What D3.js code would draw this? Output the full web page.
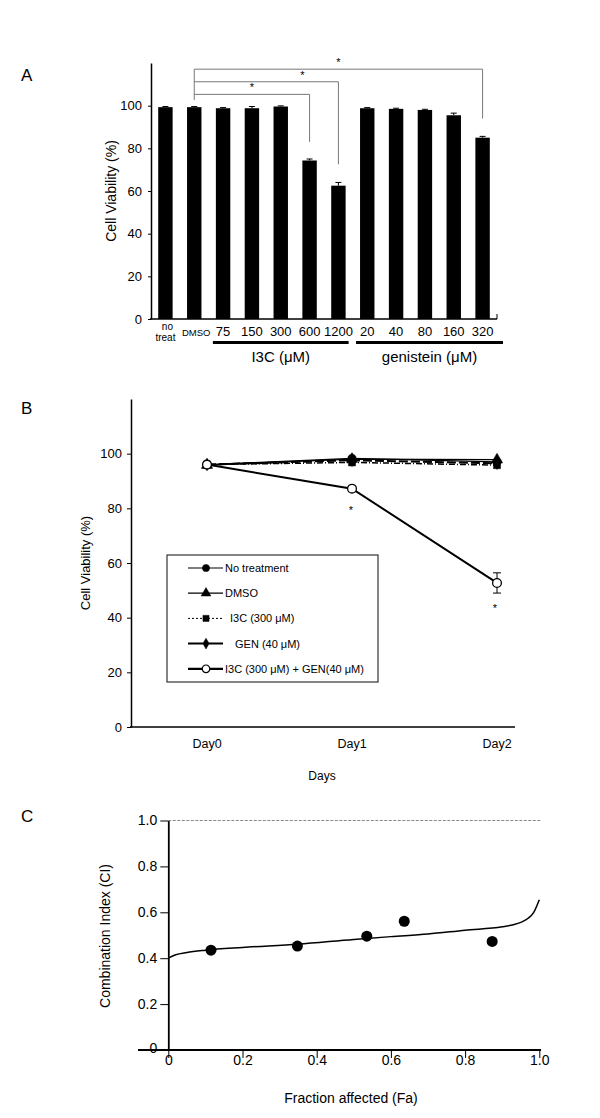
<!DOCTYPE html>
<html><head><meta charset="utf-8">
<script src="https://cdn.jsdelivr.net/npm/d3@7"></script>
<style>
body{margin:0;background:#fff;}
svg{display:block;font-family:"Liberation Sans",Arial,sans-serif;}
</style></head>
<body><svg id="c" width="600" height="1118"></svg>
<script>
// ---------- Panel A data ----------
const barCategories = ["no treat","DMSO","75","150","300","600","1200","20","40","80","160","320"];
const barValues = [99.3,99.3,98.8,98.8,99.6,74.3,62.5,98.8,98.5,98.0,95.5,85.0];
const barErrors = [0.3,0.3,0.3,0.8,0.3,0.7,1.5,0.3,0.3,0.3,1.0,0.6];
const yTicksA = [0,20,40,60,80,100];
const groupI3C = ["75","150","300","600","1200"];
const groupGEN = ["20","40","80","160","320"];
// significance brackets: from, to, bracket level (%), drop end (%)
const bracketFrom = ["DMSO","DMSO","DMSO"];
const bracketTo = ["600","1200","320"];
const bracketLevel = [105.3,111.2,117.1];
const bracketDrop = [83,72.5,94];

// ---------- Panel B data ----------
const days = ["Day0","Day1","Day2"];
const noTreatment = [96.0,98.3,97.0];
const dmso = [95.8,98.0,97.8];
const i3c300 = [96.0,96.8,95.8];
const gen40 = [96.0,97.6,96.5];
const combo = [96.0,87.2,52.7];
const comboErr = [0,0,3.7];
const yTicksB = [0,20,40,60,80,100];
const seriesNames = ["No treatment","DMSO","I3C (300 \u03bcM)","GEN (40 \u03bcM)","I3C (300 \u03bcM) + GEN(40 \u03bcM)"];

// ---------- Panel C data ----------
const faPoints = [0.115,0.348,0.535,0.636,0.873];
const ciPoints = [0.435,0.453,0.496,0.561,0.473];
const curveFa = [0,0.02,0.05,0.1,0.2,0.35,0.5,0.6,0.7,0.8,0.9,0.93,0.95,0.97,0.985,1.0];
const curveCi = [0.400,0.415,0.425,0.435,0.447,0.461,0.482,0.494,0.505,0.522,0.537,0.546,0.556,0.574,0.600,0.655];
const ticksC = [0,0.2,0.4,0.6,0.8,1.0];

const svg = d3.select("#c");
const F = "Liberation Sans, Arial, sans-serif";

function panelLabel(t,x,y){
  svg.append("text").attr("x",x).attr("y",y).attr("font-size",17).text(t);
}

// ================= PANEL A =================
(function(){
  panelLabel("A",21,81);
  const x = d3.scaleBand().domain(barCategories).range([151,497]).paddingInner(0.5).paddingOuter(0.25);
  const y = d3.scaleLinear().domain([0,120]).range([319,63]);
  const g = svg.append("g");
  g.selectAll("rect.bar").data(barValues).join("rect")
    .attr("x",(d,i)=>x(barCategories[i])).attr("width",x.bandwidth())
    .attr("y",d=>y(d)).attr("height",d=>y(0)-y(d)).attr("fill","#000");
  const eb = g.selectAll("g.eb").data(barValues).join("g");
  eb.append("line").attr("x1",(d,i)=>x(barCategories[i])+x.bandwidth()/2).attr("x2",(d,i)=>x(barCategories[i])+x.bandwidth()/2)
    .attr("y1",(d,i)=>y(d+barErrors[i])).attr("y2",(d,i)=>y(d)).attr("stroke","#000").attr("stroke-width",1);
  eb.append("line").attr("x1",(d,i)=>x(barCategories[i])+x.bandwidth()/2-3).attr("x2",(d,i)=>x(barCategories[i])+x.bandwidth()/2+3)
    .attr("y1",(d,i)=>y(d+barErrors[i])).attr("y2",(d,i)=>y(d+barErrors[i])).attr("stroke","#000").attr("stroke-width",1);
  const ya = g.append("g").attr("transform","translate(151,0)")
    .call(d3.axisLeft(y).tickValues(yTicksA).tickSize(3).tickSizeOuter(0).tickPadding(6));
  ya.select(".domain").attr("stroke-width",1.5);
  ya.selectAll("text").attr("font-size",13).attr("font-family",F).attr("fill","#000");
  g.append("line").attr("x1",150).attr("x2",497).attr("y1",319).attr("y2",319).attr("stroke","#000").attr("stroke-width",1.5);
  g.append("line").attr("x1",497).attr("x2",497).attr("y1",319).attr("y2",314).attr("stroke","#000").attr("stroke-width",1);
  const cx = c => x(c)+x.bandwidth()/2;
  barCategories.forEach((c,i)=>{
    if(c==="no treat"){
      g.append("text").attr("x",cx(c)+2).attr("y",330).attr("text-anchor","middle").attr("font-size",10).text("no");
      g.append("text").attr("x",cx(c)).attr("y",341).attr("text-anchor","middle").attr("font-size",10).text("treat");
    } else if(c==="DMSO"){
      g.append("text").attr("x",cx(c)+2).attr("y",336).attr("text-anchor","middle").attr("font-size",9.5).text("DMSO");
    } else {
      g.append("text").attr("x",cx(c)).attr("y",336).attr("text-anchor","middle").attr("font-size",13).text(c);
    }
  });
  const gx0 = x(groupI3C[0])-3, gx1 = x(groupI3C[groupI3C.length-1])+x.bandwidth()+3;
  g.append("line").attr("x1",gx0).attr("x2",gx1).attr("y1",342.5).attr("y2",342.5).attr("stroke","#000").attr("stroke-width",3);
  g.append("text").attr("x",(gx0+gx1)/2).attr("y",362).attr("text-anchor","middle").attr("font-size",15).text("I3C (\u03bcM)");
  const hx0 = x(groupGEN[0])-4, hx1 = 503;
  g.append("line").attr("x1",hx0).attr("x2",hx1).attr("y1",342.5).attr("y2",342.5).attr("stroke","#000").attr("stroke-width",3);
  g.append("text").attr("x",(hx0+hx1)/2).attr("y",362).attr("text-anchor","middle").attr("font-size",15).text("genistein (\u03bcM)");
  g.append("text").attr("transform","translate(116,191) rotate(-90)").attr("text-anchor","middle").attr("font-size",14).text("Cell Viability (%)");
  const bg = g.append("g").attr("stroke","#777").attr("stroke-width",1).attr("fill","none");
  bg.append("line").attr("x1",cx("DMSO")).attr("x2",cx("DMSO")).attr("y1",y(102.6)).attr("y2",y(d3.max(bracketLevel)));
  bracketTo.forEach((t,i)=>{
    bg.append("path").attr("d",`M${cx(bracketFrom[i])},${y(bracketLevel[i])}H${cx(t)}V${y(bracketDrop[i])}`);
  });
  const starX = [0.5,0.75,0.5];
  bracketTo.forEach((t,i)=>{
    const sx = cx(bracketFrom[i]) + (cx(t)-cx(bracketFrom[i]))*starX[i];
    g.append("text").attr("x",sx).attr("y",y(bracketLevel[i])-3).attr("text-anchor","middle").attr("font-size",11).text("*");
  });
})();

// ================= PANEL B =================
(function(){
  panelLabel("B",21,414);
  const x = d3.scalePoint().domain(days).range([207,497]);
  const y = d3.scaleLinear().domain([0,120]).range([727,399]);
  const g = svg.append("g");
  const ya = g.append("g").attr("transform","translate(131,0)")
    .call(d3.axisLeft(y).tickValues(yTicksB).tickSize(4).tickSizeOuter(0).tickPadding(5));
  ya.select(".domain").attr("stroke-width",1.5);
  ya.selectAll("text").attr("font-size",13).attr("font-family",F).attr("fill","#000");
  g.append("line").attr("x1",130).attr("x2",515).attr("y1",727).attr("y2",727).attr("stroke","#000").attr("stroke-width",1.5);
  days.forEach(d=>{
    g.append("text").attr("x",x(d)).attr("y",748).attr("text-anchor","middle").attr("font-size",12.5).text(d);
  });
  g.append("text").attr("x",x("Day1")-30).attr("y",780).attr("text-anchor","middle").attr("font-size",12).text("Days");
  g.append("text").attr("transform","translate(90,563) rotate(-90)").attr("text-anchor","middle").attr("font-size",13).text("Cell Viability (%)");

  const allSeries = [noTreatment,dmso,i3c300,gen40,combo];
  const styles = [
    {w:1.2,dash:null,marker:"circle"},
    {w:1.2,dash:null,marker:"triangle"},
    {w:1.5,dash:"6,2,1,2",marker:"square"},
    {w:2,dash:"9,3",marker:"diamond"},
    {w:2,dash:null,marker:"open"}
  ];
  const line = d3.line().x((d,i)=>x(days[i])).y(d=>y(d));
  const symOf = m => m==="circle"?d3.symbolCircle:m==="triangle"?d3.symbolTriangle:m==="square"?d3.symbolSquare:m==="diamond"?d3.symbolDiamond:d3.symbolCircle;
  const sizeOf = m => m==="circle"?55:m==="triangle"?55:m==="square"?50:m==="diamond"?45:60;
  function marker(sel,m,px,py){
    sel.append("path").attr("d",d3.symbol().type(symOf(m)).size(sizeOf(m))())
      .attr("transform",`translate(${px},${py})`)
      .attr("fill",m==="open"?"#fff":"#000").attr("stroke","#000").attr("stroke-width",m==="open"?1.3:0.5);
  }
  allSeries.forEach((s,k)=>{
    const st = styles[k];
    g.append("path").datum(s).attr("d",line).attr("fill","none").attr("stroke","#000")
      .attr("stroke-width",st.w).attr("stroke-dasharray",st.dash);
  });
  combo.forEach((v,i)=>{
    if(comboErr[i]>0){
      const px=x(days[i]);
      g.append("line").attr("x1",px).attr("x2",px).attr("y1",y(v+comboErr[i])).attr("y2",y(v-comboErr[i])).attr("stroke","#000");
      g.append("line").attr("x1",px-4).attr("x2",px+4).attr("y1",y(v+comboErr[i])).attr("y2",y(v+comboErr[i])).attr("stroke","#000");
      g.append("line").attr("x1",px-4).attr("x2",px+4).attr("y1",y(v-comboErr[i])).attr("y2",y(v-comboErr[i])).attr("stroke","#000");
    }
  });
  allSeries.forEach((s,k)=>{
    s.forEach((v,i)=>marker(g,styles[k].marker,x(days[i]),y(v)));
  });
  g.append("text").attr("x",x("Day1")-1).attr("y",y(combo[1])+25).attr("text-anchor","middle").attr("font-size",11).text("*");
  g.append("text").attr("x",x("Day2")-2).attr("y",y(combo[2])+29).attr("text-anchor","middle").attr("font-size",11).text("*");

  const lg = g.append("g");
  lg.append("rect").attr("x",167).attr("y",555).attr("width",211).attr("height",127).attr("fill","#fff").attr("stroke","#333").attr("stroke-width",1.2);
  const legStyles = [
    {w:1.2,dash:null},{w:1.2,dash:null},{w:1,dash:"2,2"},{w:2,dash:null},{w:2.2,dash:null}
  ];
  const tx = [225,225,230,235,225];
  seriesNames.forEach((n,k)=>{
    const ly = 568 + k*25.2;
    lg.append("line").attr("x1",188).attr("x2",223).attr("y1",ly).attr("y2",ly).attr("stroke","#000")
      .attr("stroke-width",legStyles[k].w).attr("stroke-dasharray",legStyles[k].dash);
    const m = styles[k].marker;
    lg.append("path").attr("d",d3.symbol().type(symOf(m)).size(sizeOf(m)*0.75)())
      .attr("transform",`translate(206,${ly})`).attr("fill",m==="open"?"#fff":"#000").attr("stroke","#000").attr("stroke-width",m==="open"?1.2:0.5);
    lg.append("text").attr("x",tx[k]).attr("y",ly+4).attr("font-size",11).text(n);
  });
})();

// ================= PANEL C =================
(function(){
  panelLabel("C",21,822);
  const x = d3.scaleLinear().domain([0,1]).range([168.3,539.3]);
  const y = d3.scaleLinear().domain([0,1]).range([1050,820.5]);
  const g = svg.append("g");
  g.append("line").attr("x1",x(0)).attr("x2",x(1)+2).attr("y1",y(1)).attr("y2",y(1))
    .attr("stroke","#888").attr("stroke-width",1).attr("stroke-dasharray","3,1.5");
  const ya = g.append("g").attr("transform",`translate(${x(0)},0)`)
    .call(d3.axisLeft(y).tickValues(ticksC).tickSize(8).tickSizeOuter(0).tickPadding(3)
      .tickFormat(d=>d===0?"0":d3.format(".1f")(d)));
  ya.select(".domain").attr("stroke-width",1.8);
  ya.selectAll("text").attr("font-size",14).attr("font-family",F).attr("fill","#000");
  ya.selectAll(".tick").filter(d=>d===0).select("text").attr("dy","0.2em");
  g.append("line").attr("x1",138).attr("x2",541).attr("y1",y(0)).attr("y2",y(0)).attr("stroke","#000").attr("stroke-width",1.8);
  const xa = g.append("g").attr("transform",`translate(0,${y(0)})`)
    .call(d3.axisBottom(x).tickValues(ticksC).tickSize(8).tickSizeOuter(0).tickPadding(-3)
      .tickFormat(d=>d===0?"0":d3.format(".1f")(d)));
  xa.select(".domain").remove();
  xa.selectAll("line").attr("stroke-width",1);
  xa.selectAll("text").attr("font-size",14).attr("font-family",F).attr("fill","#000");
  const cl = d3.line().x((d,i)=>x(curveFa[i])).y(d=>y(d)).curve(d3.curveMonotoneX);
  g.append("path").datum(curveCi).attr("d",cl).attr("fill","none").attr("stroke","#000").attr("stroke-width",1.5);
  g.selectAll("circle.pt").data(ciPoints).join("circle")
    .attr("cx",(d,i)=>x(faPoints[i])).attr("cy",d=>y(d)).attr("r",5.5).attr("fill","#000");
  g.append("text").attr("transform","translate(110,936) rotate(-90)").attr("text-anchor","middle").attr("font-size",14).text("Combination Index (CI)");
  g.append("text").attr("x",351).attr("y",1103).attr("text-anchor","middle").attr("font-size",14).text("Fraction affected (Fa)");
})();
</script></body></html>
